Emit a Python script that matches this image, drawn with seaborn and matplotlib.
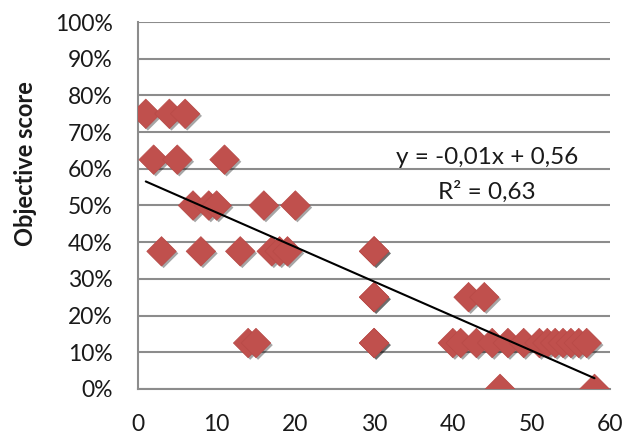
import numpy as np
import pandas as pd
import matplotlib
matplotlib.use("Agg")
import matplotlib.pyplot as plt
import matplotlib.patheffects as pe
from matplotlib.ticker import PercentFormatter
import seaborn as sns

# data
x_vals = [1, 4, 6,
          2, 5, 11,
          7, 9, 10, 16, 20,
          3, 8, 13, 17, 18, 19, 30, 30,
          30, 30, 42, 44,
          14, 15, 30, 30, 40, 41, 43, 45, 47, 49, 51, 52, 53, 54, 55, 56, 57,
          46, 58]
y_vals = ([0.75] * 3 + [0.625] * 3 + [0.5] * 5 + [0.375] * 8
          + [0.25] * 4 + [0.125] * 17 + [0.0] * 2)
eq_text = "y = -0,01x + 0,56"
r2_text = "R² = 0,63"
x_ticks = [0, 10, 20, 30, 40, 50, 60]
y_ticks = [0, 0.1, 0.2, 0.3, 0.4, 0.5, 0.6, 0.7, 0.8, 0.9, 1.0]

MARKER = "#C0504D"
GRID = "#8c8c8c"
TEXT = "#1a1a1a"

df = pd.DataFrame({"x": x_vals, "y": y_vals})

sns.set_style("white")
plt.rcParams["font.family"] = ["Lato", "DejaVu Sans"]

fig = plt.figure(figsize=(6.24, 4.34), dpi=100)
ax = fig.add_axes([0.221, 0.104, 0.757, 0.845])

sns.scatterplot(data=df, x="x", y="y", marker="D", s=225, color=MARKER,
                edgecolor="#b84a47", linewidth=0.5, ax=ax, zorder=3)
ax.collections[-1].set_path_effects([
    pe.SimplePatchShadow(offset=(1.5, -1.5), shadow_rgbFace="black", alpha=0.35),
    pe.Normal()])

sns.regplot(data=df, x="x", y="y", scatter=False, ci=None, truncate=True,
            line_kws=dict(color="black", linewidth=1.5, zorder=4), ax=ax)

ax.set_xlim(0, 60)
ax.set_ylim(0, 1.0)
ax.set_xticks(x_ticks)
ax.set_yticks(y_ticks)
ax.yaxis.set_major_formatter(PercentFormatter(1.0, decimals=0))
ax.set_xlabel("")
ax.set_ylabel("Objective score", fontsize=17, fontweight="bold", color=TEXT)
ax.yaxis.set_label_coords(-0.214, 0.613)

ax.grid(axis="y", color=GRID, linewidth=1.5, zorder=0)
ax.grid(axis="x", visible=False)
ax.set_axisbelow(True)
for side in ["top", "right"]:
    ax.spines[side].set_visible(False)
for side in ["left", "bottom"]:
    ax.spines[side].set_color(GRID)
    ax.spines[side].set_linewidth(1.5)
ax.tick_params(axis="both", colors=GRID, width=1.5, direction="out",
               labelcolor=TEXT, labelsize=16.5)
ax.tick_params(axis="x", length=6, pad=12)
ax.tick_params(axis="y", length=7, pad=11)

ax.text(44.3, 0.63, eq_text, ha="center", va="center", fontsize=17.5, color=TEXT)
ax.text(44.3, 0.537, r2_text, ha="center", va="center", fontsize=17.5, color=TEXT)

fig.savefig("out.png", dpi=100)
